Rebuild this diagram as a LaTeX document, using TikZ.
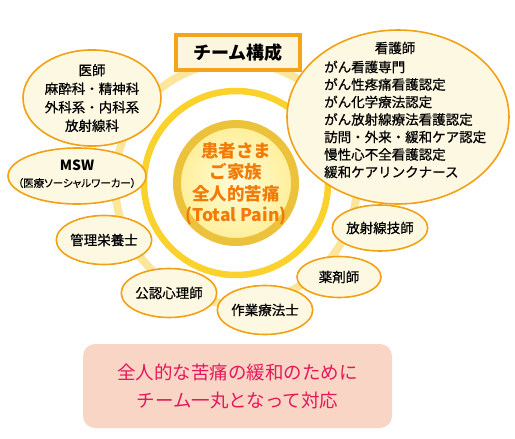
\documentclass[tikz,border=0pt]{standalone}
\usepackage{fontspec}
\setmainfont{Noto Sans CJK JP}
\newfontfamily\palfont[RawFeature=+palt,FakeBold=0.4]{Noto Sans CJK JP}
\newfontfamily\medfont[FakeBold=0.6]{Noto Sans CJK JP}
\usetikzlibrary{shapes.geometric}
\definecolor{outerring}{HTML}{FCE59C}
\definecolor{midring}{HTML}{FBD22C}
\definecolor{coregold}{HTML}{ECC23C}
\definecolor{corein}{HTML}{FFFBDA}
\definecolor{coreout}{HTML}{FFEF98}
\definecolor{coretext}{HTML}{F27A08}
\definecolor{ellfill}{HTML}{FDF8E1}
\definecolor{ellborder}{HTML}{F2A014}
\definecolor{boxborder}{HTML}{F3A41B}
\definecolor{boxfill}{HTML}{FDF6DF}
\definecolor{pinkbg}{HTML}{F9D5C6}
\definecolor{pinktext}{HTML}{E5175B}
\tikzset{
  role/.style={ellipse, draw=ellborder, fill=ellfill, line width=1.6pt, inner sep=0pt,
    font=\medfont\fontsize{13.5}{18.5}\selectfont, align=center, text=black},
  ringstyle/.style={circle, inner sep=0pt, fill=none},
  listtext/.style={inner sep=0pt, font=\medfont\fontsize{13.5}{17.5}\selectfont, align=left, text=black}
}
\begin{document}
\begin{tikzpicture}[x=1pt,y=-1pt]
\useasboundingbox (0,0) rectangle (515,439);
% rings
\node[ringstyle, draw=outerring, line width=8pt, minimum size=242] (outer) at (236,183) {};
\node[ringstyle, draw=midring, line width=6.5pt, minimum size=184] (mid) at (236,183) {};
\node[circle, inner sep=0pt, draw=coregold, line width=8pt, inner color=corein, outer color=coreout, minimum size=118] (core) at (236,183) {};
\node[inner sep=0pt, align=center, text=coretext, font=\bfseries\fontsize{17.5}{21.5}\selectfont] (coretxt) at (236,184) {患者さま\\ご家族\\全人的苦痛\\(Total Pain)};
% team title
\node[draw=boxborder, line width=4pt, fill=boxfill, minimum width=124, minimum height=35, inner sep=0pt,
  font=\bfseries\fontsize{18}{20}\selectfont] (team) at (238,52.5) {チーム構成};
% roles
\node[role, minimum width=138, minimum height=86] (doctor) at (92,98) {医師\\麻酔科・精神科\\外科系・内科系\\放射線科};
\node[role, minimum width=138, minimum height=56] (msw) at (77,176) {};
\node[inner sep=0pt, font=\bfseries\fontsize{14}{16}\selectfont] (mswtitle) at (77,165) {MSW};
\node[inner sep=0pt, font=\palfont\fontsize{10.5}{12}\selectfont] (mswsub) at (77,183) {（医療ソーシャルワーカー）};
\node[role, minimum width=84, minimum height=49] (diet) at (104,240) {管理栄養士};
\node[role, minimum width=84, minimum height=49] (psych) at (169,293) {公認心理師};
\node[role, minimum width=84, minimum height=49] (ot) at (265,310) {作業療法士};
\node[role, minimum width=84, minimum height=41] (pharm) at (339,277) {薬剤師};
\node[role, minimum width=86, minimum height=46] (radtech) at (380,228) {放射線技師};
\node[role, minimum width=222, minimum height=174] (nurse) at (398,117) {};
\node[inner sep=0pt, font=\medfont\fontsize{13.5}{16}\selectfont] (nursetitle) at (395,48) {看護師};
\node[listtext, anchor=north west] (nurselist) at (324,60.5) {がん看護専門\\がん性疼痛看護認定\\がん化学療法認定\\がん放射線療法看護認定\\訪問・外来・緩和ケア認定\\慢性心不全看護認定\\緩和ケアリンクナース};
% message
\node[fill=pinkbg, rounded corners=12pt, minimum width=309, minimum height=84, inner sep=0pt, align=center,
  text=pinktext, font=\fontsize{18.5}{28}\selectfont] (msg) at (237.5,386) {全人的な苦痛の緩和のために\\チーム一丸となって対応};
\end{tikzpicture}
\end{document}
